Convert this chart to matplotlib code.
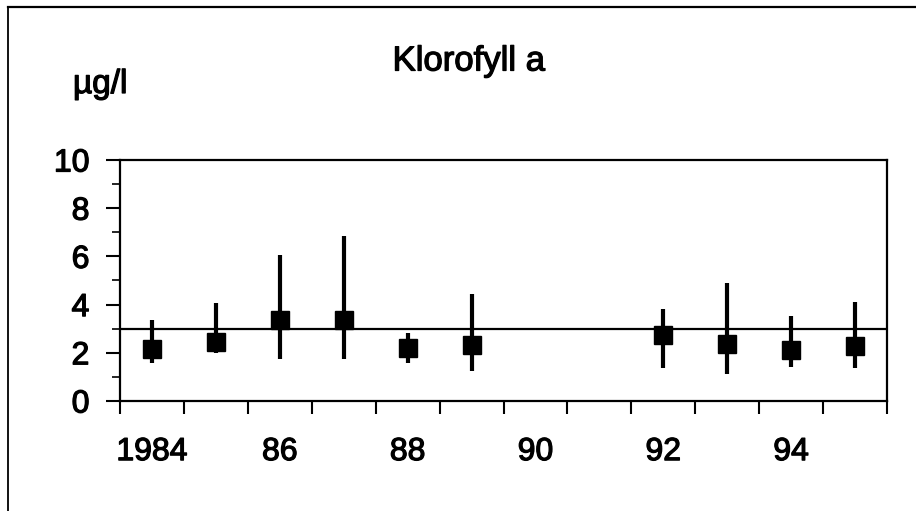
import numpy as np
import matplotlib
matplotlib.use("Agg")
import matplotlib.pyplot as plt
from matplotlib.lines import Line2D
import matplotlib.patheffects as pe

plt.rcParams['font.family'] = ['Liberation Sans', 'DejaVu Sans']

# Data
years = [1984, 1985, 1986, 1987, 1988, 1989, 1990, 1991, 1992, 1993, 1994, 1995]
mean_vals = [2.15, 2.43, 3.35, 3.35, 2.20, 2.34, np.nan, np.nan, 2.73, 2.36, 2.10, 2.29]
min_vals = [1.58, 2.00, 1.76, 1.76, 1.56, 1.24, np.nan, np.nan, 1.35, 1.14, 1.42, 1.35]
max_vals = [3.37, 4.06, 6.06, 6.86, 2.84, 4.45, np.nan, np.nan, 3.83, 4.90, 3.52, 4.10]
reference_level = 3.0
x_labels = ["1984", "86", "88", "90", "92", "94"]
y_ticks = [0, 2, 4, 6, 8, 10]
title = "Klorofyll a"
unit = "µg/l"

W, H = 916, 511
fig = plt.figure(figsize=(W / 100, H / 100), dpi=100)
ax = fig.add_axes([120 / W, 1 - 401 / H, (887 - 120) / W, (401 - 160) / H])

heavy = [pe.withStroke(linewidth=0.9, foreground='black')]

x = np.arange(len(years))
mean_arr = np.array(mean_vals)
lo = mean_arr - np.array(min_vals)
hi = np.array(max_vals) - mean_arr
ax.errorbar(x, mean_arr, yerr=[lo, hi], fmt='none', ecolor='black',
            elinewidth=3.0, capsize=0, zorder=3)
ax.plot(x, mean_arr, linestyle='none', marker='s', markersize=13.5,
        color='black', zorder=4)
ax.axhline(reference_level, color='black', linewidth=1.6, zorder=2)

ax.set_xlim(-0.5, len(years) - 0.5)
ax.set_ylim(0, 10)

# x ticks at category boundaries, labels at category centers
ax.set_xticks(np.arange(-0.5, len(years), 1.0))
ax.set_xticklabels([])
ax.set_xticks(x[::2], minor=True)
ax.set_xticklabels(x_labels, minor=True)
ax.tick_params(axis='x', which='major', direction='out', length=9, width=1.5)
ax.tick_params(axis='x', which='minor', length=0, pad=26, labelsize=23)

ax.set_yticks(y_ticks)
ax.set_yticks(np.arange(1, 10, 2), minor=True)
ax.tick_params(axis='y', which='major', direction='out', length=10, width=1.5,
               labelsize=23, pad=12)
ax.tick_params(axis='y', which='minor', direction='out', length=6, width=1.2)

for lbl in ax.get_xticklabels(minor=True) + ax.get_yticklabels():
    lbl.set_path_effects(heavy)

for s in ax.spines.values():
    s.set_linewidth(1.6)

fig.text(469 / W, 1 - 61 / H, title, ha='center', va='center', fontsize=25,
         path_effects=heavy)
fig.text(73 / W, 1 - 93 / H, unit, ha='left', va='baseline', fontsize=24,
         path_effects=heavy)

# outer frame (left and top lines)
fig.add_artist(Line2D([8 / W, 8 / W], [0, 1 - 7 / H], transform=fig.transFigure,
                      color='black', linewidth=1.3))
fig.add_artist(Line2D([8 / W, 1], [1 - 7 / H, 1 - 7 / H], transform=fig.transFigure,
                      color='black', linewidth=1.6))

fig.savefig("out.png", dpi=100)
